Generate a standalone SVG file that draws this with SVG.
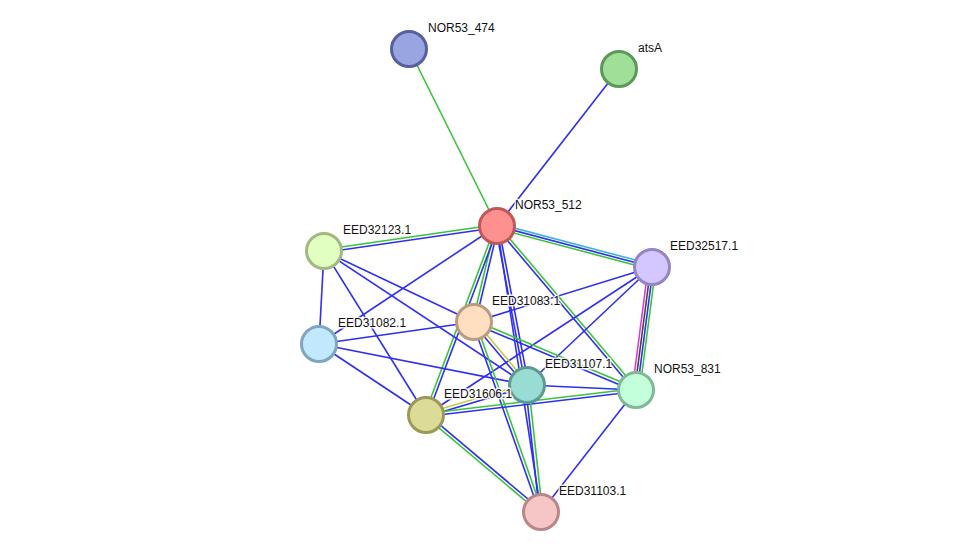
<svg xmlns="http://www.w3.org/2000/svg" width="976" height="558" viewBox="0 0 976 558">
<style>
.e line{stroke-width:1.6;fill:none}
.b{stroke:#2f2ff0}
.g{stroke:#3ac43a}
.c{stroke:#3cb4dc}
.m{stroke:#d83cd8}
.k{stroke:#444444}
.y{stroke:#c4cc3c}
.n circle{stroke-width:3}
text{font-family:"Liberation Sans",Arial,sans-serif;font-size:12px;fill:#111;stroke:#fff;stroke-width:3;stroke-opacity:0.85;paint-order:stroke;stroke-linejoin:round}
</style>
<rect width="976" height="558" fill="#fff"/>
<g id="connectors" class="e">
<line class="g" x1="409" y1="49" x2="497" y2="226"/>
<line class="b" x1="619" y1="69" x2="497" y2="226"/>
<line class="g" x1="497" y1="224.5" x2="324" y2="249.5"/>
<line class="b" x1="497" y1="227.5" x2="324" y2="252.5"/>
<line class="c" x1="497.6" y1="223.6" x2="652.6" y2="264.6"/>
<line class="b" x1="497" y1="226" x2="652" y2="267"/>
<line class="g" x1="496.4" y1="228.4" x2="651.4" y2="269.4"/>
<line class="g" x1="495.5" y1="226" x2="472.5" y2="322"/>
<line class="b" x1="498.5" y1="226" x2="475.5" y2="322"/>
<line class="g" x1="495.6" y1="225.5" x2="424.6" y2="414.5"/>
<line class="b" x1="498.4" y1="226.5" x2="427.4" y2="415.5"/>
<line class="b" x1="495.5" y1="226.3" x2="525.5" y2="385.3"/>
<line class="b" x1="498.5" y1="225.7" x2="528.5" y2="384.7"/>
<line class="b" x1="497" y1="226" x2="541" y2="512"/>
<line class="g" x1="498.1" y1="225" x2="637.1" y2="389"/>
<line class="b" x1="495.9" y1="227" x2="634.9" y2="391"/>
<line class="b" x1="497" y1="226" x2="319" y2="344"/>
<line class="m" x1="648.25" y1="267" x2="632.25" y2="390"/>
<line class="k" x1="650.75" y1="267" x2="634.75" y2="390"/>
<line class="b" x1="653.25" y1="267" x2="637.25" y2="390"/>
<line class="g" x1="655.75" y1="267" x2="639.75" y2="390"/>
<line class="b" x1="652" y1="267" x2="474" y2="322"/>
<line class="b" x1="652" y1="267" x2="527" y2="385"/>
<line class="b" x1="652" y1="267" x2="426" y2="415"/>
<line class="b" x1="324" y1="251" x2="319" y2="344"/>
<line class="b" x1="324" y1="251" x2="474" y2="322"/>
<line class="b" x1="324" y1="251" x2="527" y2="385"/>
<line class="b" x1="324" y1="251" x2="426" y2="415"/>
<line class="b" x1="319" y1="344" x2="474" y2="322"/>
<line class="b" x1="319" y1="344" x2="527" y2="385"/>
<line class="b" x1="319" y1="344" x2="426" y2="415"/>
<line class="y" x1="475.2" y1="321" x2="528.2" y2="384"/>
<line class="b" x1="472.8" y1="323" x2="525.8" y2="386"/>
<line class="g" x1="474.6" y1="320.6" x2="636.6" y2="388.6"/>
<line class="b" x1="473.4" y1="323.4" x2="635.4" y2="391.4"/>
<line class="b" x1="472.6" y1="322.5" x2="539.6" y2="512.5"/>
<line class="g" x1="475.4" y1="321.5" x2="542.4" y2="511.5"/>
<line class="y" x1="425.6" y1="413.6" x2="526.6" y2="383.6"/>
<line class="b" x1="426.4" y1="416.4" x2="527.4" y2="386.4"/>
<line class="g" x1="426" y1="413.5" x2="636" y2="388.5"/>
<line class="b" x1="426" y1="416.5" x2="636" y2="391.5"/>
<line class="b" x1="427" y1="413.9" x2="542" y2="510.9"/>
<line class="g" x1="425" y1="416.1" x2="540" y2="513.1"/>
<line class="b" x1="525.5" y1="385.2" x2="539.5" y2="512.2"/>
<line class="g" x1="528.5" y1="384.8" x2="542.5" y2="511.8"/>
<line class="b" x1="527" y1="385" x2="636" y2="390"/>
<line class="b" x1="636" y1="390" x2="541" y2="512"/>
</g>
<g id="NOR53_474" class="n"><circle cx="409" cy="49" r="17.5" fill="#99a5e0" stroke="#5660a0"/><text x="428" y="32">NOR53_474</text></g>
<g id="atsA" class="n"><circle cx="619" cy="69" r="17.5" fill="#9fdf98" stroke="#5a9a58"/><text x="638" y="52">atsA</text></g>
<g id="NOR53_512" class="n"><circle cx="497" cy="226" r="17.5" fill="#ff9090" stroke="#c05858"/><text x="515" y="209">NOR53_512</text></g>
<g id="EED32123.1" class="n"><circle cx="324" cy="251" r="17.5" fill="#e2ffc2" stroke="#a2ba82"/><text x="343" y="234">EED32123.1</text></g>
<g id="EED32517.1" class="n"><circle cx="652" cy="267" r="17.5" fill="#d4c6ff" stroke="#9684c6"/><text x="670" y="250">EED32517.1</text></g>
<g id="EED31083.1" class="n"><circle cx="474" cy="322" r="17.5" fill="#ffdfc0" stroke="#bc9c80"/><text x="492" y="305">EED31083.1</text></g>
<g id="EED31082.1" class="n"><circle cx="319" cy="344" r="17.5" fill="#c2e8fe" stroke="#7ea6be"/><text x="338" y="327">EED31082.1</text></g>
<g id="EED31107.1" class="n"><circle cx="527" cy="385" r="17.5" fill="#98dcd4" stroke="#5c9a92"/><text x="545" y="368">EED31107.1</text></g>
<g id="NOR53_831" class="n"><circle cx="636" cy="390" r="17.5" fill="#c2ffda" stroke="#80b898"/><text x="654" y="373">NOR53_831</text></g>
<g id="EED31606.1" class="n"><circle cx="426" cy="415" r="17.5" fill="#dcdc98" stroke="#9a9a58"/><text x="444" y="398">EED31606.1</text></g>
<g id="EED31103.1" class="n"><circle cx="541" cy="512" r="17.5" fill="#f6c6c6" stroke="#b88888"/><text x="559" y="495">EED31103.1</text></g>
</svg>
